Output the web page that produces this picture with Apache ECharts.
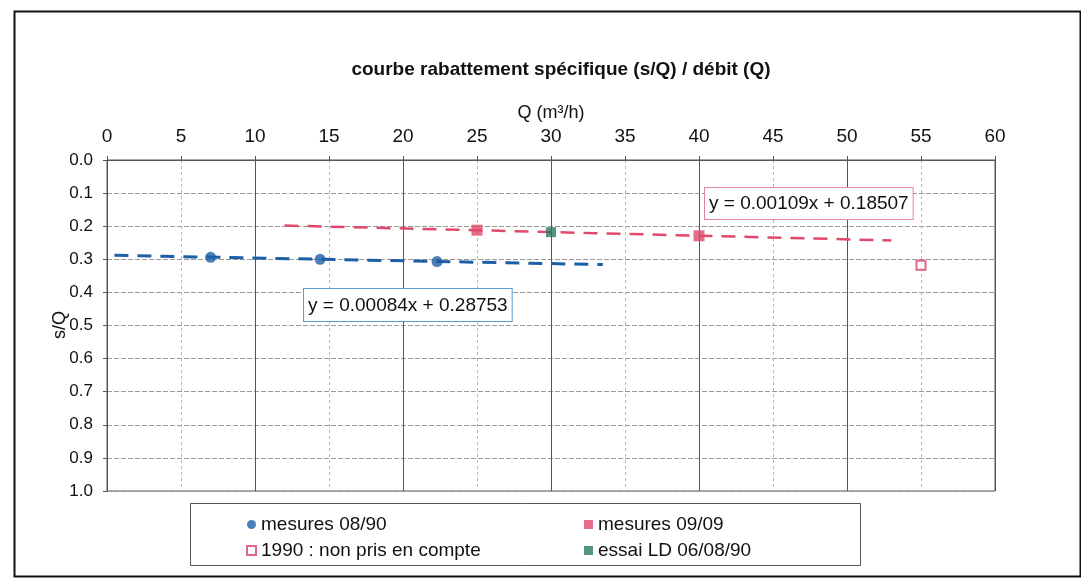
<!DOCTYPE html>
<html>
<head>
<meta charset="utf-8">
<script src="https://cdn.jsdelivr.net/npm/echarts@6/dist/echarts.min.js"></script>
<style>html,body{margin:0;padding:0;background:#fff}#c{width:1081px;height:578px}</style>
</head>
<body>
<div id="c"></div>
<script>
const titleText = 'courbe rabattement spécifique (s/Q) / débit (Q)';
const xName = 'Q (m³/h)';
const yName = 's/Q';
const mesures0890 = [[7, 0.294], [14.4, 0.300], [22.3, 0.307]];
const mesures0909 = [[25, 0.212], [40, 0.229]];
const essaiLD = [[30, 0.218]];
const nonPris1990 = [[55, 0.318]];
const trendBlue = [[0.5, 0.288], [33.5, 0.316]];
const trendRed = [[12, 0.198], [53, 0.243]];
const eqBlue = 'y = 0.00084x + 0.28753';
const eqRed = 'y = 0.00109x + 0.18507';
const names = ['mesures 08/90', 'mesures 09/09', '1990 : non pris en compte', 'essai LD 06/08/90'];

const FONT = 'Liberation Sans, Arial, sans-serif';
const chart = echarts.init(document.getElementById('c'));
chart.setOption({
  backgroundColor: '#fff',
  animation: false,
  title: {
    text: titleText, left: 556, top: 55, textAlign: 'center',
    textStyle: {fontFamily: FONT, fontSize: 19, fontWeight: 'bold', color: '#111'}
  },
  grid: {left: 107, top: 160, width: 888, height: 331, show: true, borderColor: '#555', borderWidth: 1},
  xAxis: [{
    type: 'value', position: 'top', min: 0, max: 60, interval: 5,
    name: xName, nameLocation: 'middle', nameGap: 35,
    nameTextStyle: {fontFamily: FONT, fontSize: 18, color: '#111'},
    axisLine: {show: true, lineStyle: {color: '#555'}},
    axisTick: {show: true, length: 4, lineStyle: {color: '#555'}},
    axisLabel: {fontFamily: FONT, fontSize: 19, color: '#111', margin: 14},
    splitLine: {show: true, lineStyle: {color: '#b8b8b8', type: [3, 3]}}
  }, {
    type: 'value', position: 'top', min: 0, max: 60, interval: 10,
    axisLine: {show: false}, axisTick: {show: false}, axisLabel: {show: false},
    splitLine: {show: true, lineStyle: {color: '#555', width: 1}}
  }],
  yAxis: {
    type: 'value', inverse: true, min: 0, max: 1, interval: 0.1,
    axisLine: {show: true, lineStyle: {color: '#555'}},
    axisTick: {show: true, length: 4, lineStyle: {color: '#555'}},
    axisLabel: {fontFamily: FONT, fontSize: 17, color: '#111', margin: 14, formatter: v => v.toFixed(1)},
    splitLine: {show: true, lineStyle: {color: '#999', width: 1, type: [5, 2]}}
  },
  legend: [
    {data: [{name: names[0], icon: 'circle'}, {name: names[2], icon: 'rect'}], orient: 'vertical',
     left: 241, top: 510, itemWidth: 9, itemHeight: 9, itemGap: 7,
     textStyle: {fontFamily: FONT, fontSize: 19, color: '#111'}},
    {data: [{name: names[1], icon: 'rect'}, {name: names[3], icon: 'rect'}], orient: 'vertical',
     left: 579, top: 510, itemWidth: 9, itemHeight: 9, itemGap: 7,
     textStyle: {fontFamily: FONT, fontSize: 19, color: '#111'}}
  ],
  series: [
    {name: 'trendBlue', type: 'line', data: trendBlue, symbol: 'none', silent: true,
     lineStyle: {color: '#1d5fa6', width: 3, type: [14, 9]}, z: 1},
    {name: 'trendRed', type: 'line', data: trendRed, symbol: 'none', silent: true,
     lineStyle: {color: '#e04a6a', width: 2.5, type: [14, 9]}, z: 1},
    {name: names[0], type: 'scatter', data: mesures0890, symbol: 'circle', symbolSize: 11,
     itemStyle: {color: '#1d5fa6'}, z: 3},
    {name: names[1], type: 'scatter', data: mesures0909, symbol: 'rect', symbolSize: 11,
     itemStyle: {color: '#e04a6a'}, z: 3},
    {name: names[2], type: 'scatter', data: nonPris1990, symbol: 'rect', symbolSize: 9,
     itemStyle: {color: '#fff', borderColor: '#d9406a', borderWidth: 2}, z: 3},
    {name: names[3], type: 'scatter', data: essaiLD, symbol: 'rect', symbolSize: 10,
     itemStyle: {color: '#2c7a68'}, z: 3}
  ],
  graphic: [
    {type: 'rect', left: 12, top: 9, z: -1, silent: true,
     shape: {width: 1066, height: 565}, style: {fill: 'none', stroke: '#111', lineWidth: 2}},
    {type: 'rect', left: 190, top: 503, silent: true,
     shape: {width: 670, height: 62}, style: {fill: '#fff', stroke: '#555', lineWidth: 1}, z: -1},
    {type: 'text', x: 60, y: 325, rotation: Math.PI / 2, silent: true,
     style: {text: yName, fontFamily: FONT, fontSize: 18, fill: '#111', align: 'center', verticalAlign: 'middle'}},
    {type: 'text', left: 303, top: 288, silent: true, z: 10,
     style: {text: eqBlue, fontFamily: FONT, fontSize: 19, fill: '#111', backgroundColor: '#fff',
             borderColor: '#5a9bd0', borderWidth: 1, padding: [7, 4, 6, 4]}},
    {type: 'text', left: 704, top: 187, silent: true, z: 10,
     style: {text: eqRed, fontFamily: FONT, fontSize: 19, fill: '#111', backgroundColor: '#fff',
             borderColor: '#e0889a', borderWidth: 1, padding: [6, 4, 6, 4]}}
  ]
});
</script>
</body>
</html>
